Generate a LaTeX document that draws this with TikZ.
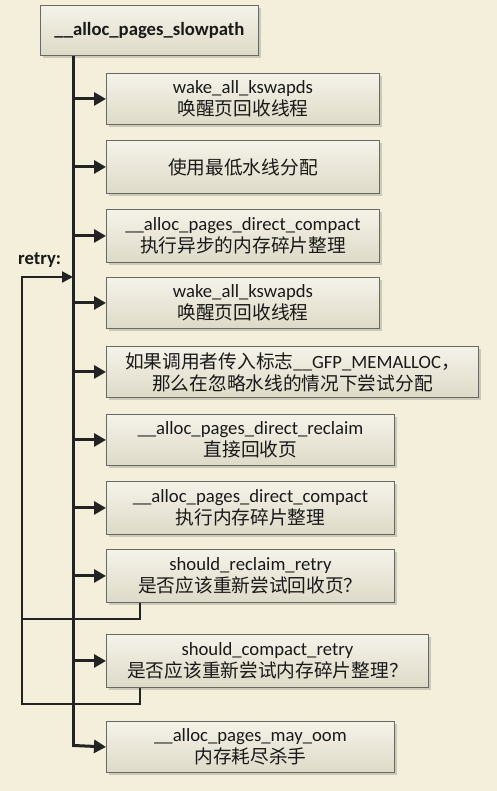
\documentclass[tikz,border=0pt]{standalone}
\usepackage{fontspec}
\setmainfont{Carlito}
\newfontfamily\cjk{Noto Sans CJK SC}
\usetikzlibrary{arrows.meta,shadows}
\newcommand{\zh}[1]{{\cjk #1}}
\definecolor{bgc}{RGB}{243,239,218}
\definecolor{boxtop}{RGB}{245,243,233}
\definecolor{boxbot}{RGB}{222,218,200}
\definecolor{boxline}{RGB}{105,105,98}
\definecolor{shadowc}{RGB}{205,201,184}
\definecolor{linec}{RGB}{35,35,35}
\definecolor{textc}{RGB}{25,25,25}
\tikzset{
  stepbox/.style={draw=boxline, line width=0.9pt, top color=boxtop, bottom color=boxbot,
    anchor=north west, minimum height=51pt, inner sep=0pt, align=center, text=textc,
    font=\fontsize{18.7}{22}\selectfont,
    drop shadow={shadow xshift=3pt, shadow yshift=-3pt, fill=shadowc, opacity=1}},
  trunk/.style={draw=linec, line width=3pt},
  branch/.style={draw=linec, line width=3pt, -{Triangle[length=12pt,width=13pt]}},
  loopline/.style={draw=linec, line width=2.2pt},
  looparrow/.style={draw=linec, line width=2.2pt, -{Triangle[length=11pt,width=11pt]}}
}
\begin{document}
\begin{tikzpicture}[x=1pt,y=-1pt]
\fill[bgc] (0,0) rectangle (497,791);
\useasboundingbox (0,0) rectangle (497,791);

\node[stepbox, minimum width=218pt, minimum height=50pt, font=\fontsize{18.7}{22}\selectfont\bfseries] (top) at (40,5) {\_\_alloc\_pages\_slowpath};

\node[stepbox, minimum width=273pt] (b1) at (106,73) {wake\_all\_kswapds\\\zh{唤醒页回收线程}};
\node[stepbox, minimum width=273pt, minimum height=53pt] (b2) at (106,140) {\zh{使用最低水线分配}};
\node[stepbox, minimum width=273pt, minimum height=53pt] (b3) at (106,209) {\_\_alloc\_pages\_direct\_compact\\\zh{执行异步的内存碎片整理}};
\node[stepbox, minimum width=273pt] (b4) at (106,277) {wake\_all\_kswapds\\\zh{唤醒页回收线程}};
\node[stepbox, minimum width=372pt] (b5) at (106,346) {\zh{如果调用者传入标志}\_\_GFP\_MEMALLOC\zh{，}\\\zh{那么在忽略水线的情况下尝试分配}};
\node[stepbox, minimum width=288pt] (b6) at (106,414) {\_\_alloc\_pages\_direct\_reclaim\\\zh{直接回收页}};
\node[stepbox, minimum width=288pt, minimum height=53pt] (b7) at (106,481) {\_\_alloc\_pages\_direct\_compact\\\zh{执行内存碎片整理}};
\node[stepbox, minimum width=288pt, minimum height=53pt] (b8) at (106,549) {should\_reclaim\_retry\\\zh{是否应该重新尝试回收页？}};
\node[stepbox, minimum width=322pt, minimum height=53pt] (b9) at (106,634) {should\_compact\_retry\\\zh{是否应该重新尝试内存碎片整理？}};
\node[stepbox, minimum width=288pt] (b10) at (106,721) {\_\_alloc\_pages\_may\_oom\\\zh{内存耗尽杀手}};

\node[anchor=base west, inner sep=0pt, text=textc, font=\fontsize{18.7}{22}\selectfont\bfseries] (retrylbl) at (18,265) {retry:};

% trunk
\coordinate (t0) at ([xshift=33pt]top.south west);
\draw[trunk] (t0) -- (t0 |- b10.west);
\draw[branch] ([yshift=1.5pt]t0 |- b10.west) -- (b10.west);
\foreach \b in {b1,b2,b3,b4,b5,b6,b7,b8,b9}{
  \draw[branch] (t0 |- \b.west) -- (\b.west);
}

% retry loops
\coordinate (r) at (22,277);
\coordinate (l8) at ([xshift=34pt]b8.south west);
\coordinate (l9) at ([xshift=34pt]b9.south west);
\draw[loopline] (l8) -- ++(0,16) -| (r);
\draw[loopline] (l9) -- ++(0,16) -| (r);
\draw[looparrow] ([xshift=-1.1pt]r) -- (r -| t0);
\end{tikzpicture}
\end{document}
